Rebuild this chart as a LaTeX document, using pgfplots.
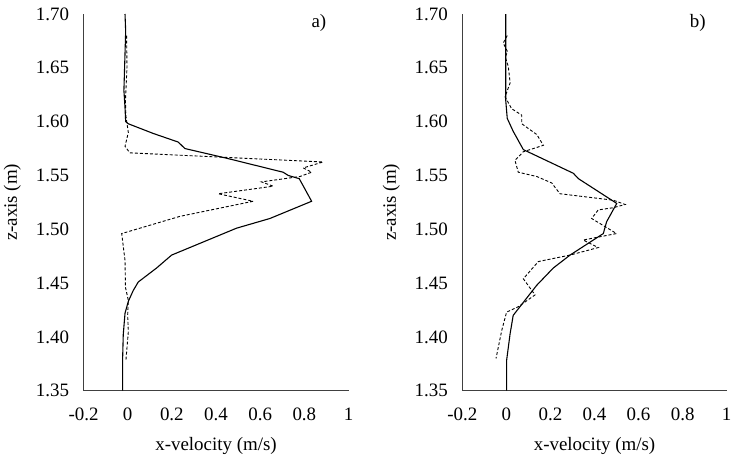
\documentclass[border=0pt]{standalone}
\usepackage{pgfplots}
\pgfplotsset{compat=1.18}
\usepackage{fontspec}
\setmainfont{Liberation Serif}
\begin{document}
\begin{tikzpicture}
\pgfplotsset{
  panel/.style={
    scale only axis,
    width=265bp, height=376.7bp,
    anchor=south west,
    xmin=-0.2, xmax=1, ymin=1.35, ymax=1.70,
    xtick={-0.2,0,0.2,0.4,0.6,0.8,1},
    xticklabels={-0.2,0,0.2,0.4,0.6,0.8,1},
    ytick={1.35,1.40,1.45,1.50,1.55,1.60,1.65,1.70},
    yticklabels={1.35,1.40,1.45,1.50,1.55,1.60,1.65,1.70},
    axis x line*=bottom, axis y line*=left,
    axis line style={black!75, line width=0.9pt, -},
    major tick length=0pt,
    ticklabel style={font=\fontsize{19}{21}\selectfont},
    yticklabel style={xshift=-11bp},
    xticklabel style={yshift=-14bp},
    label style={font=\fontsize{19}{21}\selectfont},
    xlabel={x-velocity (m/s)},
    ylabel={z-axis (m)},
    xlabel style={yshift=-9bp},
    ylabel style={yshift=8bp},
    clip=false,
  },
  sol/.style={black, line width=1.1pt},
  das/.style={black, line width=0.9pt, dash pattern=on 3pt off 2pt},
}
\useasboundingbox (0,0) rectangle (736bp,456bp);
\begin{axis}[panel, at={(83.5bp,65.3bp)}]
\addplot[sol] coordinates {
(-0.012,1.700) (-0.009,1.684) (-0.017,1.629) (-0.012,1.613) (-0.009,1.600)
(0.003,1.598) (0.116,1.589) (0.229,1.581) (0.259,1.575) (0.448,1.566)
(0.704,1.553) (0.727,1.550) (0.777,1.547) (0.833,1.526) (0.644,1.510)
(0.493,1.501) (0.199,1.476) (0.131,1.464) (0.048,1.451) (0.025,1.443)
(0.003,1.433) (-0.012,1.422) (-0.020,1.402) (-0.023,1.378) (-0.023,1.350)};
\addplot[das] coordinates {
(-0.005,1.680) (-0.003,1.651) (-0.010,1.620) (-0.008,1.605) (0.003,1.590)
(-0.012,1.577) (0.010,1.571) (0.885,1.5625) (0.795,1.557) (0.833,1.553)
(0.780,1.549) (0.606,1.544) (0.659,1.540) (0.410,1.533) (0.568,1.526)
(0.237,1.512) (-0.027,1.496) (-0.012,1.471) (-0.010,1.446) (0.003,1.434)
(0.000,1.420) (0.003,1.405) (-0.008,1.378)};
\node[font=\fontsize{19}{21}\selectfont] at (axis cs:0.866,1.692) {a)};
\end{axis}
\begin{axis}[panel, at={(462.3bp,65.3bp)}, width=264.4bp]
\addplot[sol] coordinates {
(-0.003,1.700) (-0.003,1.620) (0.004,1.603) (0.031,1.591) (0.077,1.574)
(0.304,1.552) (0.327,1.547) (0.501,1.524) (0.455,1.507) (0.440,1.496)
(0.289,1.476) (0.213,1.464) (0.138,1.448) (0.092,1.436) (0.031,1.420)
(0.017,1.403) (0.001,1.378) (0.001,1.350)};
\addplot[das] coordinates {
(0.004,1.680) (-0.014,1.673) (0.005,1.665) (-0.005,1.660) (0.009,1.651)
(0.017,1.636) (-0.006,1.623) (0.024,1.612) (0.070,1.606) (0.070,1.598)
(0.138,1.588) (0.168,1.578) (0.077,1.572) (0.039,1.564) (0.054,1.553)
(0.138,1.549) (0.206,1.543) (0.243,1.533) (0.485,1.527) (0.539,1.523)
(0.485,1.520) (0.417,1.518) (0.387,1.510) (0.500,1.496) (0.349,1.490)
(0.417,1.483) (0.289,1.476) (0.145,1.470) (0.077,1.454) (0.130,1.439)
(0.054,1.428) (0.001,1.423) (-0.021,1.406) (-0.047,1.380)};
\node[font=\fontsize{19}{21}\selectfont] at (axis cs:0.869,1.692) {b)};
\end{axis}
\end{tikzpicture}
\end{document}
